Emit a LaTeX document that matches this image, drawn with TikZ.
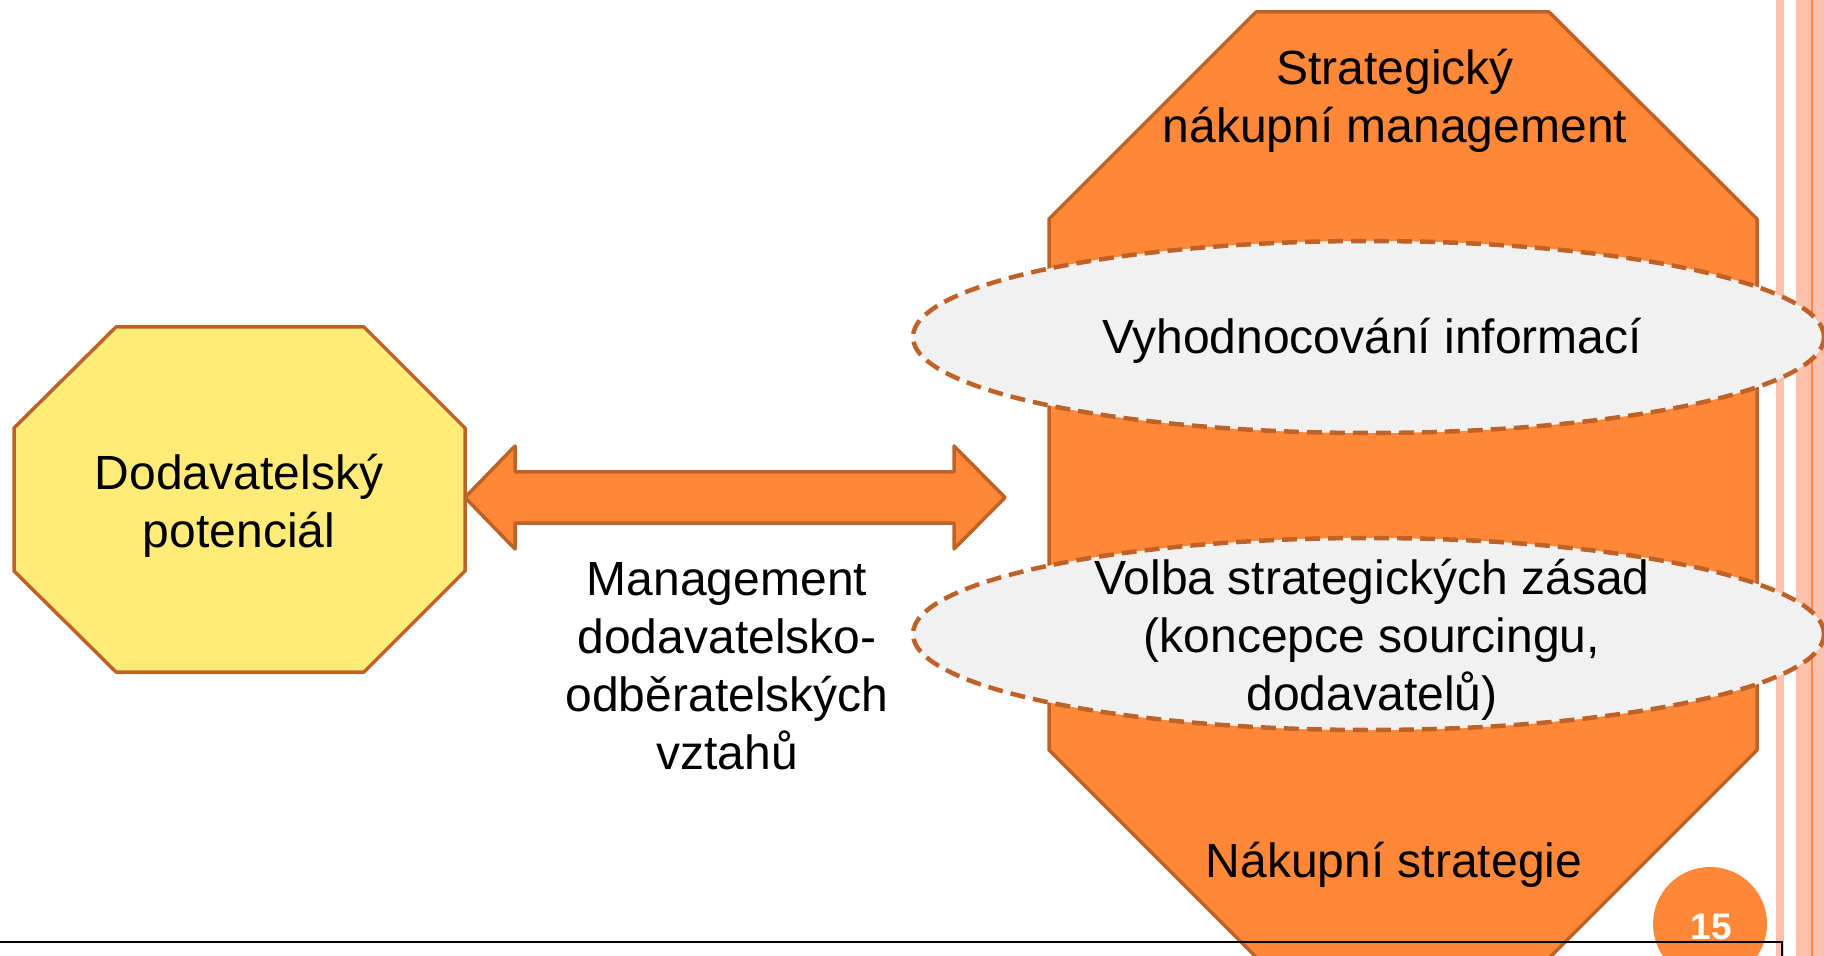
\documentclass[tikz,border=0pt]{standalone}
\usepackage{fontspec}
\setmainfont{Liberation Sans}
\usetikzlibrary{shapes.geometric,calc}

\definecolor{accent}{RGB}{254,136,56}
\definecolor{rim}{RGB}{190,98,40}
\definecolor{sun}{RGB}{255,236,120}
\definecolor{mist}{RGB}{241,241,241}
\definecolor{salmon}{RGB}{253,192,170}
\definecolor{stripeline}{RGB}{248,138,80}

\tikzset{
  octa/.style={draw=rim, line width=1.75pt, line join=round},
  bigarrow/.style={draw=rim, fill=accent, line width=1.75pt, line join=round},
  cloud/.style={ellipse, draw=rim, fill=mist, line width=2.25pt,
    dash pattern=on 7.5pt off 4pt, inner sep=0pt,
    minimum width=455.5pt, minimum height=96pt},
  label/.style={align=center, inner sep=0pt, font=\fontsize{24pt}{29pt}\selectfont},
  pagenum/.style={circle, fill=accent, minimum size=57pt, inner sep=0pt}
}

\begin{document}
\begin{tikzpicture}[x=0.5pt, y=-0.5pt]
  \useasboundingbox (0,0) rectangle (1824,956);
  \clip (0,0) rectangle (1824,956);

  % decorative stripes along the right margin
  \fill[salmon] (1776,0) rectangle (1784,956);
  \fill[salmon] (1796,0) rectangle (1824,956);
  \fill[stripeline] (1811,0) rectangle (1813,956);

  % supplier potential (yellow octagon)
  \filldraw[octa, fill=sun] (116,327) -- (364,327) -- (465,428) -- (465,571)
    -- (364,672) -- (116,672) -- (14,571) -- (14,428) -- cycle;
  \node[label] (supplier) at (239,506) {Dodavatelský\\potenciál};
  \coordinate (aL) at (465,497.5);

  % strategic purchasing management (orange octagon)
  \filldraw[octa, fill=accent] (1256,12) -- (1549,12) -- (1757,219) -- (1757,750)
    -- (1549,958) -- (1257,958) -- (1049,750) -- (1049,219) -- cycle;
  \coordinate (aR) at (1005,497.5);

  % two-headed arrow between the two blocks
  \draw[bigarrow] (aL) -- ++(50,-51.5) -- ++(0,26) -- ++(439,0) -- ++(0,-26)
    -- (aR) -- ++(-51,51.5) -- ++(0,-26) -- ++(-439,0) -- ++(0,26) -- cycle;

  % inner process steps
  \node[cloud] (eval) at (1368.5,337) {};
  \node[cloud] (choice) at (1368.5,634) {};
  \node[label] (evaltext) at (1372,341) {Vyhodnocování informací};
  \node[label] (choicetext) at (1372,640)
    {Volba strategických zásad\\(koncepce sourcingu,\\dodavatelů)};

  % texts
  \node[label] (strat) at (1395,101) {Strategický\\nákupní management};
  \node[label] (plan) at (1394,865) {Nákupní strategie};
  \node[label] (rel) at (727,666) {Management\\dodavatelsko-\\odběratelských\\vztahů};

  % page number
  \node[pagenum] (page) at (1710,924) {};
  \node[text=white, font=\bfseries\fontsize{18.5pt}{20pt}\selectfont, inner sep=0pt]
    (pagetext) at (1711,927) {15};

  % frame line
  \draw[black, line width=1pt] (-5,942) -- (1782,942) -- (1782,970);
\end{tikzpicture}
\end{document}
